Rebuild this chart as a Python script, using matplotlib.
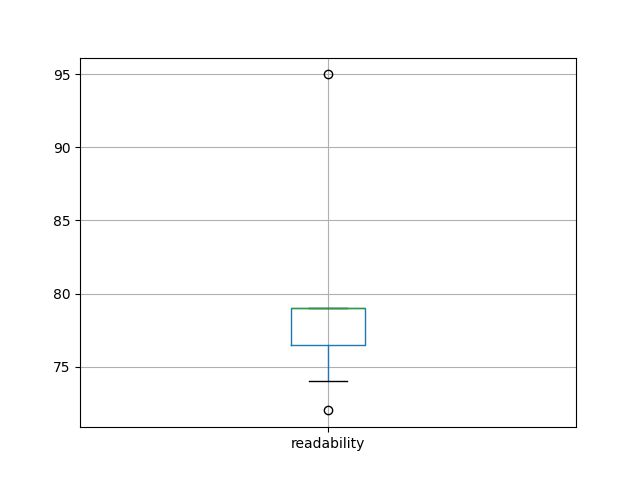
import matplotlib
matplotlib.use("Agg")
import matplotlib.pyplot as plt
import pandas as pd

readability = [72, 74, 79, 79, 79, 79, 95]

df = pd.DataFrame({"readability": readability})
fig, ax = plt.subplots(figsize=(6.4, 4.8), dpi=100)
df.boxplot(column=["readability"], ax=ax)
fig.savefig("out.png")
